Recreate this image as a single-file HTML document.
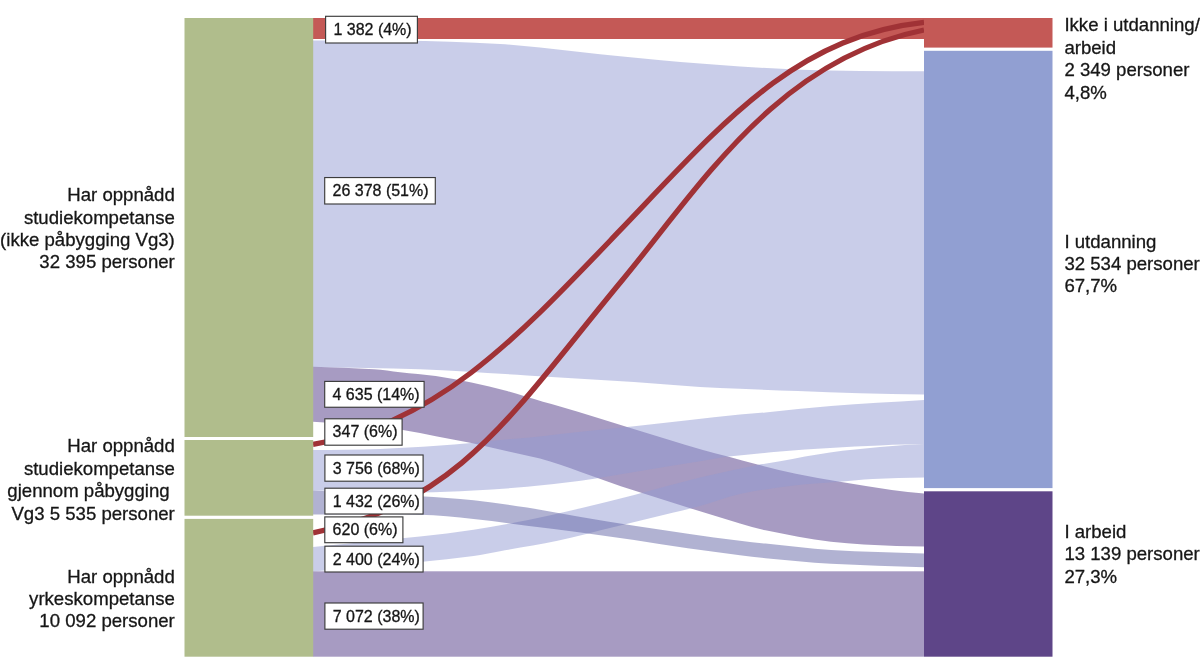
<!DOCTYPE html>
<html><head><meta charset="utf-8"><title>Sankey</title>
<style>
html,body{margin:0;padding:0;background:#fff;}
body{width:1200px;height:672px;overflow:hidden;}
svg{display:block;will-change:transform;}
text{font-family:"Liberation Sans",sans-serif;fill:#161616;stroke:#161616;stroke-width:0.3px;}
.l{font-size:18.6px;}
.b{font-size:16px;}
</style></head><body>
<svg width="1200" height="672" viewBox="0 0 1200 672">
<rect x="313" y="18" width="611" height="21" fill="#c45956"/>
<path d="M313.00,366.80 C333.33,367.63 353.67,368.04 374.00,369.30 C382.67,369.84 391.33,371.26 400.00,372.20 C411.90,373.49 423.80,374.28 435.70,376.00 C447.60,377.72 459.50,379.98 471.40,382.50 C483.30,385.02 495.20,387.89 507.10,391.10 C519.03,394.32 530.97,398.33 542.90,401.80 C548.60,403.46 554.30,404.83 560.00,406.50 C571.90,409.99 583.80,413.65 595.70,417.30 C606.43,420.59 617.17,423.99 627.90,427.30 C640.97,431.33 654.03,435.35 667.10,439.30 C679.03,442.91 690.97,446.62 702.90,450.00 C711.53,452.45 720.17,454.49 728.80,456.80 C738.37,459.36 747.93,462.19 757.50,464.60 C770.27,467.82 783.03,471.05 795.80,473.70 C810.50,476.75 825.20,479.20 839.90,481.70 C857.17,484.63 874.43,487.58 891.70,490.00 C902.47,491.51 913.23,492.33 924.00,493.50 L924.00,546.50 C914.83,546.33 905.67,546.46 896.50,546.00 C874.67,544.90 852.83,544.42 831.00,541.80 C809.17,539.18 787.33,534.69 765.50,530.30 C757.00,528.59 748.50,525.99 740.00,523.50 C722.60,518.39 705.20,512.91 687.80,507.50 C669.93,501.94 652.07,496.54 634.20,490.60 C616.37,484.67 598.53,477.96 580.70,471.90 C567.13,467.29 553.57,462.46 540.00,458.60 C529.53,455.62 519.07,453.80 508.60,451.40 C496.20,448.56 483.80,445.50 471.40,442.90 C459.97,440.50 448.53,438.55 437.10,436.40 C425.70,434.25 414.30,431.69 402.90,430.00 C388.60,427.89 374.30,426.30 360.00,425.00 C344.33,423.57 328.67,422.87 313.00,421.80 Z" fill="#4f3785" fill-opacity="0.5"/>
<rect x="313" y="571.3" width="611" height="85.4" fill="#4f3785" fill-opacity="0.5"/>
<path d="M313.00,40.50 C342.00,40.60 371.00,40.52 400.00,40.80 C416.67,40.96 433.33,41.27 450.00,41.80 C466.67,42.33 483.33,42.94 500.00,44.00 C513.33,44.84 526.67,46.17 540.00,47.50 C553.33,48.83 566.67,50.53 580.00,52.00 C593.33,53.47 606.67,54.93 620.00,56.30 C633.67,57.70 647.33,59.05 661.00,60.30 C674.00,61.49 687.00,62.60 700.00,63.60 C713.33,64.63 726.67,65.57 740.00,66.40 C760.00,67.64 780.00,69.03 800.00,69.80 C820.00,70.57 840.00,70.76 860.00,71.00 C881.33,71.26 902.67,71.20 924.00,71.30 L924.00,394.40 C902.67,394.00 881.33,393.76 860.00,393.20 C839.33,392.66 818.67,391.86 798.00,391.10 C778.67,390.39 759.33,389.63 740.00,388.80 C726.67,388.23 713.33,387.74 700.00,386.90 C678.00,385.51 656.00,383.56 634.00,382.10 C598.33,379.73 562.67,377.53 527.00,375.40 C491.33,373.27 455.67,370.70 420.00,369.30 C384.33,367.90 348.67,367.77 313.00,367.00 Z" fill="#939bd3" fill-opacity="0.5"/>
<path d="M313.00,450.00 C335.33,449.63 357.67,449.67 380.00,448.90 C399.00,448.24 418.00,446.95 437.00,445.70 C448.47,444.95 459.93,443.92 471.40,442.90 C483.80,441.79 496.20,440.47 508.60,439.30 C519.07,438.31 529.53,437.50 540.00,436.40 C553.57,434.97 567.13,433.15 580.70,431.70 C598.53,429.79 616.37,428.21 634.20,426.30 C652.07,424.38 669.93,422.18 687.80,420.20 C705.20,418.28 722.60,416.35 740.00,414.60 C748.50,413.75 757.00,413.21 765.50,412.40 C787.33,410.31 809.17,407.61 831.00,405.90 C862.00,403.47 893.00,401.97 924.00,400.00 L924.00,444.10 C917.67,444.27 911.33,444.41 905.00,444.60 C896.67,444.85 888.33,445.07 880.00,445.40 C871.67,445.73 863.33,446.18 855.00,446.60 C846.67,447.02 838.33,447.42 830.00,447.90 C821.67,448.38 813.33,448.88 805.00,449.50 C796.67,450.12 788.33,450.82 780.00,451.60 C762.93,453.19 745.87,454.55 728.80,456.60 C719.20,457.75 709.60,459.65 700.00,461.20 C678.07,464.75 656.13,468.31 634.20,471.90 C616.37,474.81 598.53,478.22 580.70,480.70 C562.80,483.19 544.90,485.16 527.00,486.80 C509.20,488.43 491.40,489.55 473.60,490.50 C455.73,491.45 437.87,492.49 420.00,492.50 C384.33,492.52 348.67,491.23 313.00,490.60 Z" fill="#939bd3" fill-opacity="0.5"/>
<path d="M313.00,546.90 C348.67,543.40 384.33,540.22 420.00,536.40 C437.87,534.49 455.73,532.39 473.60,529.70 C491.40,527.02 509.20,523.86 527.00,520.30 C544.90,516.72 562.80,512.54 580.70,508.30 C598.53,504.07 616.37,499.50 634.20,494.90 C656.13,489.24 678.07,482.82 700.00,477.50 C719.17,472.85 738.33,468.91 757.50,465.00 C765.00,463.47 772.50,462.56 780.00,461.20 C788.33,459.69 796.67,457.87 805.00,456.40 C813.33,454.93 821.67,453.55 830.00,452.40 C838.33,451.25 846.67,450.40 855.00,449.50 C863.33,448.60 871.67,447.73 880.00,447.00 C888.33,446.27 896.67,445.65 905.00,445.10 C911.33,444.68 917.67,444.43 924.00,444.10 L924.00,477.50 C906.83,478.00 889.67,478.14 872.50,479.00 C861.63,479.54 850.77,480.82 839.90,481.70 C825.93,482.82 811.97,483.28 798.00,485.00 C778.67,487.38 759.33,489.86 740.00,494.00 C726.67,496.86 713.33,502.29 700.00,506.00 C690.83,508.55 681.67,510.56 672.50,512.80 C653.33,517.49 634.17,522.13 615.00,526.80 C595.83,531.47 576.67,536.73 557.50,540.80 C538.33,544.87 519.17,547.73 500.00,551.20 C491.20,552.79 482.40,554.82 473.60,556.00 C455.73,558.39 437.87,560.19 420.00,561.90 C384.33,565.32 348.67,568.23 313.00,571.40 Z" fill="#939bd3" fill-opacity="0.5"/>
<path d="M313.00,490.60 C348.67,492.47 384.33,494.05 420.00,496.20 C437.87,497.28 455.73,498.41 473.60,500.30 C491.40,502.18 509.20,504.72 527.00,507.50 C544.90,510.29 562.80,513.96 580.70,517.00 C598.53,520.03 616.37,522.92 634.20,525.70 C652.07,528.49 669.93,531.15 687.80,533.70 C705.20,536.18 722.60,538.58 740.00,540.80 C748.50,541.88 757.00,542.74 765.50,543.60 C787.33,545.81 809.17,548.64 831.00,550.00 C862.00,551.94 893.00,552.33 924.00,553.50 L924.00,567.20 C893.00,566.03 862.00,565.46 831.00,563.70 C809.17,562.46 787.33,560.24 765.50,558.20 C757.00,557.41 748.50,556.29 740.00,555.20 C722.60,552.96 705.20,550.72 687.80,548.20 C669.93,545.62 652.07,542.54 634.20,539.90 C616.37,537.27 598.53,534.76 580.70,532.40 C562.80,530.03 544.90,527.94 527.00,525.70 C509.20,523.47 491.40,520.81 473.60,519.00 C455.73,517.18 437.87,515.31 420.00,514.80 C384.33,513.78 348.67,514.53 313.00,514.40 Z" fill="#6365a5" fill-opacity="0.5"/>
<path d="M313.0,444.3 C437.1,425.0 520.2,334.6 619.2,231.2 C721.5,124.4 794.5,36.3 924.0,22.4" fill="none" stroke="#a03236" stroke-width="5.3"/>
<path d="M313.0,532.9 C461.9,501.9 511.5,413.5 622.6,279.7 C701.2,185.0 777.7,59.2 924.0,30.0" fill="none" stroke="#a03236" stroke-width="5.3"/>
<rect x="184.5" y="18" width="128.7" height="419" fill="#b0bd8c"/>
<rect x="184.5" y="440" width="128.7" height="75.7" fill="#b0bd8c"/>
<rect x="184.5" y="518.9" width="128.7" height="137.8" fill="#b0bd8c"/>
<rect x="924" y="18" width="128.5" height="29.6" fill="#c45956"/>
<rect x="924" y="50.8" width="128.5" height="437.3" fill="#919fd2"/>
<rect x="924" y="491.3" width="128.5" height="165.4" fill="#5e4588"/>
<rect x="325.60" y="16.30" width="91.80" height="26.70" fill="#fff" stroke="#3c3c3c" stroke-width="1.15"/>
<text x="333.40" y="34.80" class="b">1 382 (4%)</text>
<rect x="324.70" y="177.55" width="110.60" height="26.45" fill="#fff" stroke="#3c3c3c" stroke-width="1.15"/>
<text x="332.50" y="196.05" class="b">26 378 (51%)</text>
<rect x="324.70" y="381.40" width="99.40" height="25.85" fill="#fff" stroke="#3c3c3c" stroke-width="1.15"/>
<text x="332.50" y="399.90" class="b">4 635 (14%)</text>
<rect x="324.80" y="418.80" width="77.30" height="26.40" fill="#fff" stroke="#3c3c3c" stroke-width="1.15"/>
<text x="332.60" y="437.30" class="b">347 (6%)</text>
<rect x="324.90" y="455.00" width="98.20" height="26.20" fill="#fff" stroke="#3c3c3c" stroke-width="1.15"/>
<text x="332.70" y="473.50" class="b">3 756 (68%)</text>
<rect x="324.90" y="488.20" width="98.20" height="25.80" fill="#fff" stroke="#3c3c3c" stroke-width="1.15"/>
<text x="332.70" y="506.70" class="b">1 432 (26%)</text>
<rect x="324.80" y="516.90" width="78.10" height="25.80" fill="#fff" stroke="#3c3c3c" stroke-width="1.15"/>
<text x="332.60" y="535.40" class="b">620 (6%)</text>
<rect x="324.90" y="546.20" width="98.20" height="25.80" fill="#fff" stroke="#3c3c3c" stroke-width="1.15"/>
<text x="332.70" y="564.70" class="b">2 400 (24%)</text>
<rect x="324.90" y="603.00" width="98.20" height="26.20" fill="#fff" stroke="#3c3c3c" stroke-width="1.15"/>
<text x="332.70" y="621.50" class="b">7 072 (38%)</text>
<text x="174.80" y="201.40" class="l" text-anchor="end">Har oppnådd</text>
<text x="174.80" y="223.70" class="l" text-anchor="end">studiekompetanse</text>
<text x="174.80" y="246.00" class="l" text-anchor="end">(ikke påbygging Vg3)</text>
<text x="174.80" y="268.30" class="l" text-anchor="end">32 395 personer</text>
<text x="174.80" y="452.30" class="l" text-anchor="end">Har oppnådd</text>
<text x="174.80" y="474.70" class="l" text-anchor="end">studiekompetanse</text>
<text x="174.80" y="497.10" class="l" text-anchor="end">gjennom påbygging&#160;</text>
<text x="174.80" y="519.50" class="l" text-anchor="end">Vg3 5 535 personer</text>
<text x="174.80" y="583.00" class="l" text-anchor="end">Har oppnådd</text>
<text x="174.80" y="605.20" class="l" text-anchor="end">yrkeskompetanse</text>
<text x="174.80" y="627.40" class="l" text-anchor="end">10 092 personer</text>
<text x="1064.40" y="31.00" class="l" text-anchor="start">Ikke i utdanning/</text>
<text x="1064.40" y="53.50" class="l" text-anchor="start">arbeid</text>
<text x="1064.40" y="76.00" class="l" text-anchor="start">2 349 personer</text>
<text x="1064.40" y="98.50" class="l" text-anchor="start">4,8%</text>
<text x="1064.40" y="247.50" class="l" text-anchor="start">I utdanning</text>
<text x="1064.40" y="269.90" class="l" text-anchor="start">32 534 personer</text>
<text x="1064.40" y="292.30" class="l" text-anchor="start">67,7%</text>
<text x="1064.40" y="538.00" class="l" text-anchor="start">I arbeid</text>
<text x="1064.40" y="560.45" class="l" text-anchor="start">13 139 personer</text>
<text x="1064.40" y="582.90" class="l" text-anchor="start">27,3%</text>
</svg>
</body></html>
